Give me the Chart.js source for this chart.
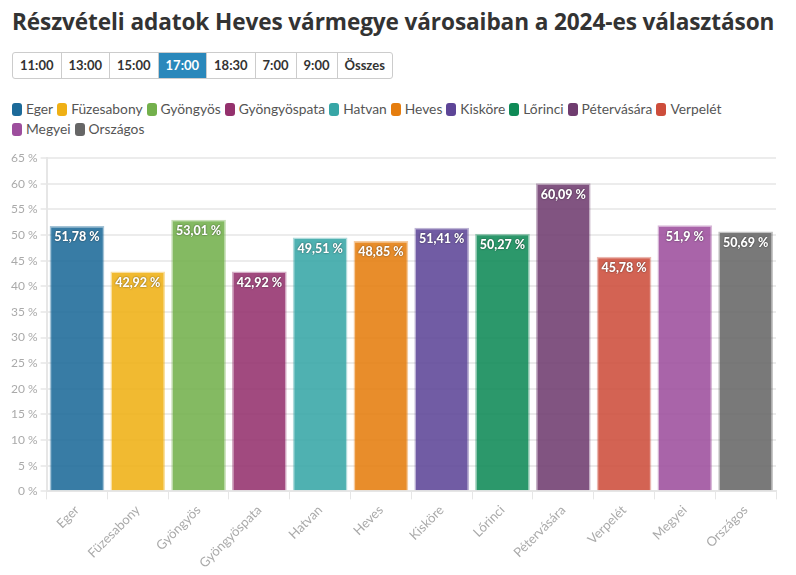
<!DOCTYPE html>
<html>
<head>
<meta charset="utf-8">
<script src="https://cdn.jsdelivr.net/npm/chart.js@4"></script>
<style>
  body { margin: 0; background: #fff; font-family: Lato, "Open Sans", sans-serif; }
  .wrap { width: 796px; height: 575px; position: relative; }
  h1 { position: absolute; left: 12px; top: 6px; margin: 0; font-family: "Open Sans", sans-serif; font-size: 22.6px; font-weight: 700; color: #333; letter-spacing: -0.1px; white-space: nowrap; }
  .buttons { position: absolute; left: 12px; top: 52px; display: flex; border: 1px solid #ccc; border-radius: 3px; overflow: hidden; }
  .buttons span { display: block; height: 25px; line-height: 25px; padding: 0 7px; font-size: 13px; font-weight: 700; color: #333; border-left: 1px solid #ccc; }
  .buttons span:first-child { border-left: none; }
  .buttons span.active { background: #2a88bb; color: #fff; }
  #legend { position: absolute; left: 12px; top: 99px; width: 740px; font-size: 13.8px; color: #555; line-height: 20px; }
  #legend .item { display: inline-block; margin-right: 4px; white-space: nowrap; }
  #legend .box { display: inline-block; width: 10px; height: 13px; border-radius: 3px; vertical-align: -2px; margin-right: 4px; }
  .chartBox { position: absolute; left: 0; top: 148px; width: 796px; height: 427px; }
</style>
</head>
<body>
<div class="wrap">
  <h1>Részvételi adatok Heves vármegye városaiban a 2024-es választáson</h1>
  <div class="buttons">
    <span>11:00</span><span>13:00</span><span>15:00</span><span class="active">17:00</span><span>18:30</span><span>7:00</span><span>9:00</span><span>Összes</span>
  </div>
  <div id="legend"></div>
  <div class="chartBox"><canvas id="myChart"></canvas></div>
</div>
<script>
const labels = ["Eger", "Füzesabony", "Gyöngyös", "Gyöngyöspata", "Hatvan", "Heves", "Kisköre", "Lőrinci", "Pétervására", "Verpelét", "Megyei", "Országos"];
const values = [51.78, 42.92, 53.01, 42.92, 49.51, 48.85, 51.41, 50.27, 60.09, 45.78, 51.9, 50.69];
const colors = ["#1c6a99", "#efb015", "#73b04c", "#94316d", "#37a6a6", "#e57d0e", "#5d4597", "#0f8a56", "#6f3c6f", "#cd4d3b", "#9d4e9d", "#666666"];
const yTicks = [0, 5, 10, 15, 20, 25, 30, 35, 40, 45, 50, 55, 60, 65];

function hexA(hex, a) {
  const n = parseInt(hex.slice(1), 16);
  return "rgba(" + (n >> 16) + "," + ((n >> 8) & 255) + "," + (n & 255) + "," + a + ")";
}
function fmt(v) {
  return String(v).replace(".", ",") + " %";
}

// legend
const legendEl = document.getElementById("legend");
labels.forEach(function (l, i) {
  const item = document.createElement("span");
  item.className = "item";
  item.innerHTML = '<span class="box" style="background:' + colors[i] + '"></span>' + l;
  legendEl.appendChild(item);
});

// value labels inside top of bars
const valueLabels = {
  id: "valueLabels",
  afterDatasetsDraw(chart) {
    const ctx = chart.ctx;
    const meta = chart.getDatasetMeta(0);
    ctx.save();
    ctx.font = "900 12.5px Lato, sans-serif";
    ctx.textAlign = "center";
    ctx.textBaseline = "top";
    ctx.fillStyle = "#fff";
    ctx.shadowColor = "rgba(0,0,0,0.6)";
    ctx.shadowBlur = 2;
    meta.data.forEach(function (bar, i) {
      ctx.fillText(fmt(values[i]), bar.x, bar.y + 5);
    });
    ctx.restore();
  },
};

const config = {
  type: "bar",
  data: {
    labels: labels,
    datasets: [
      {
        data: values,
        backgroundColor: colors.map((c) => hexA(c, 0.88)),
        borderColor: colors.map((c) => hexA(c, 0.4)),
        borderWidth: 1.5,
        barPercentage: 0.9,
        categoryPercentage: 1,
      },
    ],
  },
  options: {
    responsive: true,
    maintainAspectRatio: false,
    animation: false,
    layout: { padding: { left: 8, right: 20, top: 2, bottom: 1 } },
    plugins: {
      tooltip: { enabled: false },
      legend: { display: false },
    },
    scales: {
      x: {
        grid: { display: true, drawOnChartArea: false, color: "#e6e6e6", tickLength: 8 },
        border: { color: "#e6e6e6", width: 2 },
        ticks: {
          color: "#aaa",
          font: { family: "Lato, sans-serif", size: 13 },
          maxRotation: 45,
          minRotation: 45,
        },
      },
      y: {
        min: 0,
        max: 65,
        afterBuildTicks: function (axis) {
          axis.ticks = yTicks.map((v) => ({ value: v }));
        },
        grid: { color: "#ececec", lineWidth: 2, tickLength: 6 },
        border: { color: "#e6e6e6", width: 2 },
        ticks: {
          color: "#aaa",
          font: { family: "Lato, sans-serif", size: 12 },
          callback: (v) => v + " %",
        },
      },
    },
  },
  plugins: [valueLabels],
};

const myChart = new Chart(document.getElementById("myChart"), config);
</script>
</body>
</html>
